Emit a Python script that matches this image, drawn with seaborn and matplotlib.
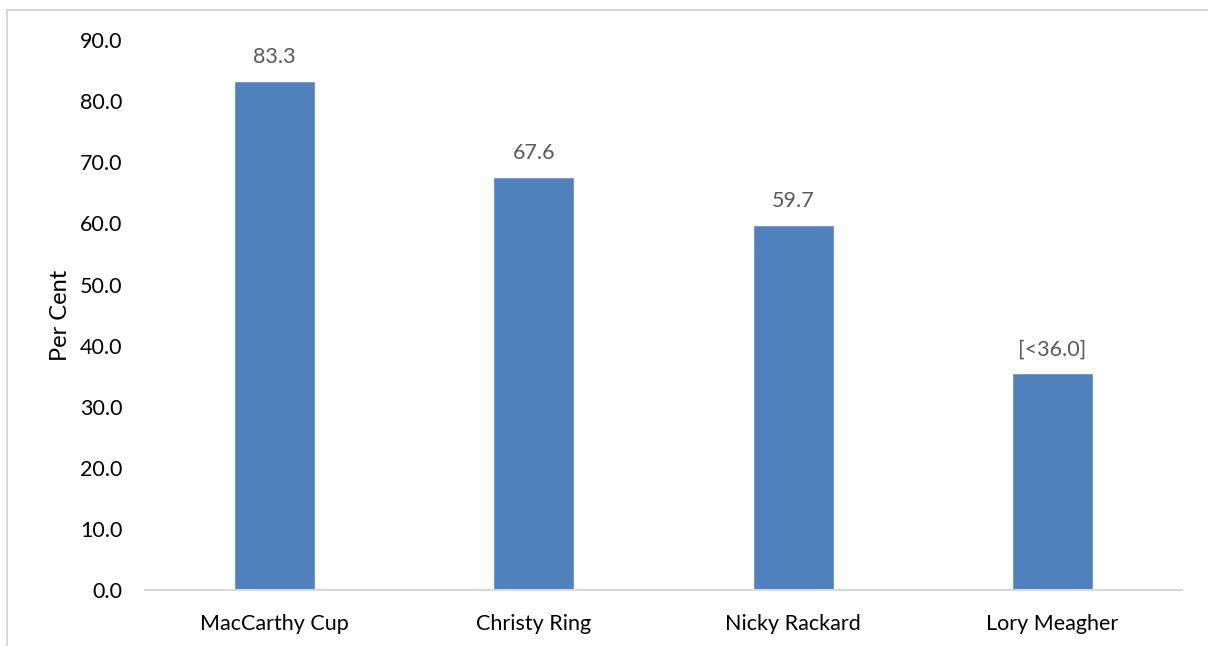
import matplotlib
matplotlib.use("Agg")
import matplotlib.pyplot as plt
import seaborn as sns
import pandas as pd
from matplotlib.patches import Rectangle

categories = ["MacCarthy Cup", "Christy Ring", "Nicky Rackard", "Lory Meagher"]
values = [83.3, 67.6, 59.7, 35.5]
labels = ["83.3", "67.6", "59.7", "[<36.0]"]
yticks = [0, 10, 20, 30, 40, 50, 60, 70, 80, 90]

sns.set_theme(style="white")
plt.rcParams["font.family"] = ["Lato", "DejaVu Sans"]

df = pd.DataFrame({"cat": categories, "val": values})

fig = plt.figure(figsize=(12.08, 6.46), dpi=100)
ax = fig.add_axes([0.120, 0.0867, 0.8585, 0.851])

sns.barplot(data=df, x="cat", y="val", color="#4F81BD", saturation=1,
            width=0.3125, ax=ax)

ax.set_ylim(0, 90)
ax.set_xlim(-0.5, len(categories) - 0.5)
ax.set_yticks(yticks)
ax.set_yticklabels([f"{t:.1f}" for t in yticks], fontsize=15.5, color="black")
ax.tick_params(axis="x", labelsize=15.5, colors="black", length=0, pad=17)
ax.tick_params(axis="y", length=0, pad=16)
ax.set_xlabel("")
ax.set_ylabel("Per Cent", fontsize=17, color="black", labelpad=7)

for s in ["top", "right", "left"]:
    ax.spines[s].set_visible(False)
ax.spines["bottom"].set_color("#D9D9D9")
ax.spines["bottom"].set_linewidth(1.5)

for i, (v, lab) in enumerate(zip(values, labels)):
    ax.annotate(lab, (i, v), xytext=(0, 10), textcoords="offset points",
                ha="center", va="bottom", fontsize=15.5, color="#595959")

fig.patches.append(Rectangle((7 / 1208, -0.05), 1.1, 1 - 10 / 646 + 0.05,
                             transform=fig.transFigure, fill=False,
                             edgecolor="#D9D9D9", linewidth=1.5))

fig.savefig("out.png", dpi=100, facecolor="white")
